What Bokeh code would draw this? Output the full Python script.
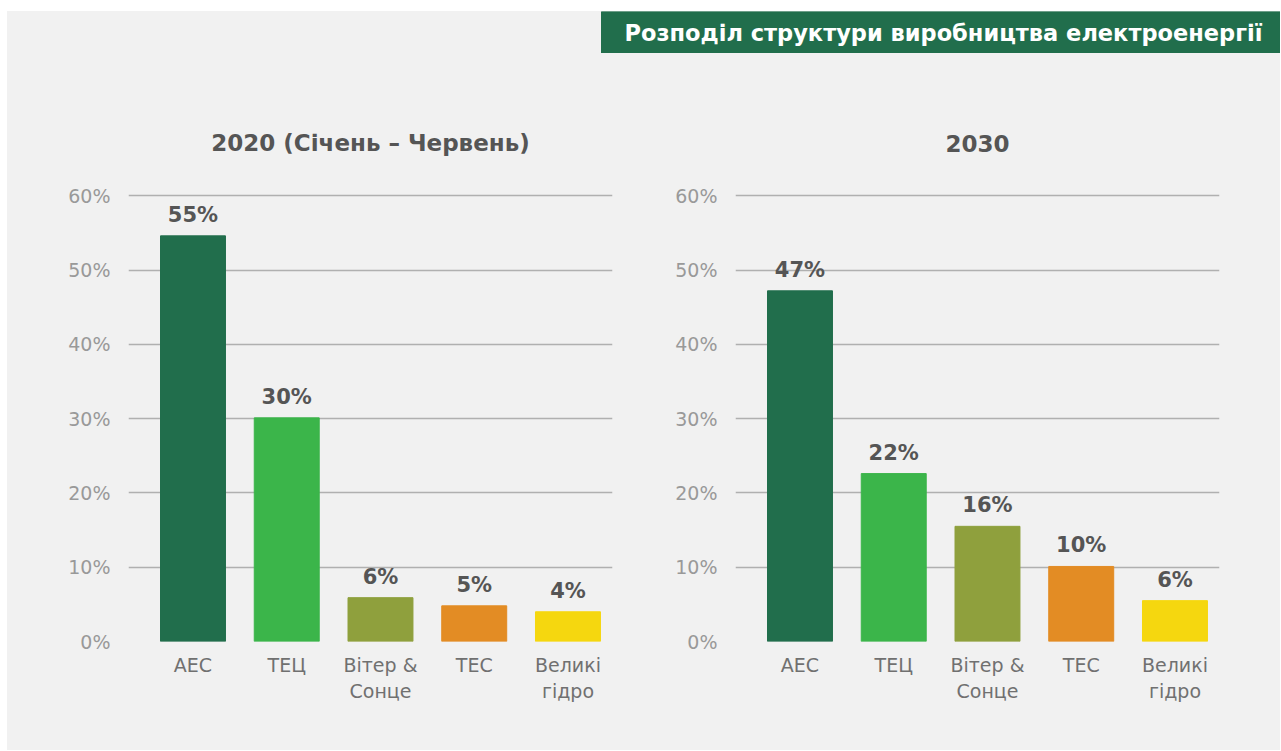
from bokeh.plotting import figure
from bokeh.models import Range1d, FixedTicker, ColumnDataSource, Title
from bokeh.layouts import column, row
from bokeh.embed import file_html
from bokeh.resources import INLINE
from bokeh.core.properties import value

# ---- data ----
categories = ["АЕС", "ТЕЦ", "Вітер &\nСонце", "ТЕС", "Великі\nгідро"]
colors = ["#216e4c", "#3bb54a", "#8fa03d", "#e38c24", "#f5d70f"]
values_2020 = [54.6, 30.1, 5.9, 4.8, 4.0]
labels_2020 = ["55%", "30%", "6%", "5%", "4%"]
values_2030 = [47.2, 22.6, 15.5, 10.1, 5.5]
labels_2030 = ["47%", "22%", "16%", "10%", "6%"]
y_ticks = [0, 10, 20, 30, 40, 50, 60]
y_tick_labels = ["0%", "10%", "20%", "30%", "40%", "50%", "60%"]
title_2020 = "2020 (Січень – Червень)"
title_2030 = "2030"
main_title = "Розподіл структури виробництва електроенергії"

BG = "#f1f1f1"
BOLD_FONT = "DejaVu Sans"
FONT = "DejaVu Sans"


def make_chart(vals, labs, title, width, bl, br, standoff):
    p = figure(width=width, height=697, output_backend="svg", toolbar_location=None,
               x_range=Range1d(-0.688, 4.475), y_range=Range1d(0, 60.3),
               min_border_left=bl, min_border_right=br, min_border_top=140,
               min_border_bottom=109)
    p.background_fill_color = BG
    p.border_fill_color = BG
    p.outline_line_color = None
    t = Title(text=title, align="center", text_font=BOLD_FONT, text_font_size="23px",
              text_font_style="bold", text_color="#555555", standoff=standoff)
    p.add_layout(t, "above")
    src = ColumnDataSource(dict(x=list(range(len(categories))), v=vals, lab=labs, c=colors))
    p.vbar(x="x", top="v", width=0.693, color="c", source=src)
    p.text(x="x", y="v", text="lab", source=src, text_align="center", text_baseline="bottom",
           y_offset=-9, text_font=value(BOLD_FONT), text_font_size="21px", text_font_style="bold",
           text_color="#555555")
    p.xgrid.grid_line_color = None
    p.ygrid.grid_line_color = "#b0b0b0"
    p.ygrid.grid_line_width = 1.5
    p.ygrid.ticker = FixedTicker(ticks=y_ticks)
    p.yaxis.ticker = FixedTicker(ticks=y_ticks)
    p.yaxis.major_label_overrides = {t_: l for t_, l in zip(y_ticks, y_tick_labels)}
    p.xaxis.ticker = FixedTicker(ticks=list(range(len(categories))))
    p.xaxis.major_label_overrides = {i: c for i, c in enumerate(categories)}
    for ax in (p.xaxis, p.yaxis):
        ax.axis_line_color = None
        ax.major_tick_line_color = None
        ax.minor_tick_line_color = None
        ax.major_label_text_font = FONT
        ax.major_label_text_font_size = "19px"
    p.yaxis.major_label_text_color = "#999999"
    p.yaxis.major_label_standoff = 12
    p.xaxis.major_label_text_color = "#707070"
    p.xaxis.major_label_standoff = 6
    return p


left = make_chart(values_2020, labels_2020, title_2020, 633, 121, 28, 76)
right = make_chart(values_2030, labels_2030, title_2030, 640, 95, 61, 84)

strip = figure(width=1273, height=42, output_backend="svg", toolbar_location=None,
               x_range=Range1d(0, 1273), y_range=Range1d(0, 42), min_border=0,
               x_axis_location=None, y_axis_location=None)
strip.background_fill_color = BG
strip.border_fill_color = BG
strip.outline_line_color = None
strip.grid.grid_line_color = None
strip.quad(left=594, right=1273, bottom=0, top=42, color="#216e4c")
strip.text(x=[617], y=[21], text=[main_title], text_baseline="middle", text_align="left",
           text_font=value(BOLD_FONT), text_font_size="22.5px", text_font_style="bold",
           text_color="white")

lower = row(left, right, spacing=0, styles={"background-color": BG})
layout = column(strip, lower, spacing=0, margin=(11, 0, 0, 7),
                styles={"background-color": BG})

open("out.html", "w").write(file_html(layout, INLINE))
